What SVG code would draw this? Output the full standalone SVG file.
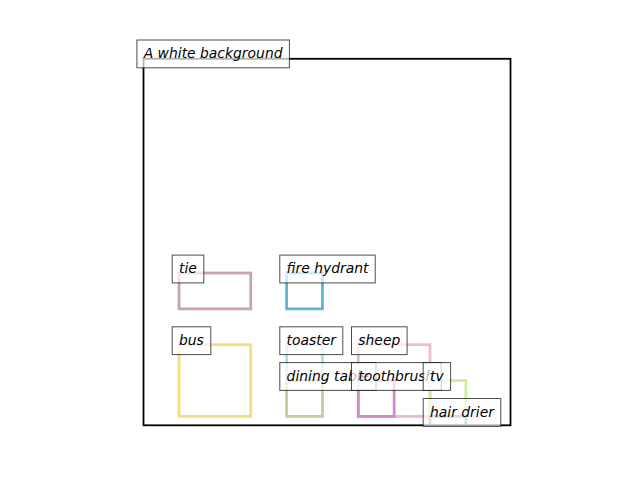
<svg xmlns="http://www.w3.org/2000/svg" width="640" height="480" viewBox="0 0 640 480">
<style>
.box{fill:none;stroke-width:2.8;stroke-linejoin:miter}
.lb{fill:#ffffff;fill-opacity:0.7;stroke:#000000;stroke-opacity:0.7;stroke-width:1}
.lt{font-family:"DejaVu Sans",sans-serif;font-style:italic;font-size:13.9px;fill:#000000}
</style>
<defs>
<clipPath id="ax"><rect x="143.5" y="58.8" width="367" height="366.5"/></clipPath>
</defs>
<rect x="0" y="0" width="640" height="480" fill="#ffffff"/>
<g id="boxes" clip-path="url(#ax)">
<rect id="r-tie" class="box" x="179.05" y="273" width="71.7" height="35.85" stroke="#c9a2b4"/>
<rect id="r-fire" class="box" x="286.6" y="273" width="35.85" height="35.85" stroke="#5bb8d2"/>
<rect id="r-bus" class="box" x="179.05" y="344.7" width="71.7" height="71.7" stroke="#f5dc80"/>
<rect id="r-toaster" class="box" x="286.6" y="344.7" width="35.85" height="35.85" stroke="#b0dce8"/>
<rect id="r-dining" class="box" x="286.6" y="380.55" width="35.85" height="35.85" stroke="#c8cc98"/>
<rect id="r-sheep" class="box" x="358.3" y="344.7" width="71.7" height="71.7" stroke="#e8bcd6"/>
<rect id="r-toothbrush" class="box" x="358.3" y="380.55" width="35.85" height="35.85" stroke="#c98fc4"/>
<rect id="r-tv" class="box" x="430" y="380.55" width="35.85" height="35.85" stroke="#d0ee9e"/>
<rect id="r-hair" class="box" x="430" y="416.4" width="35.85" height="35.85" stroke="#8a9494"/>
</g>
<rect id="axes" x="143.5" y="58.8" width="367" height="366.5" fill="none" stroke="#000000" stroke-width="1.8"/>
<g id="labels">
<g id="l-bg"><rect class="lb" x="136.9" y="40" width="152.5" height="27.8"/><text class="lt" x="143.7" y="58.3">A white background</text></g>
<g id="l-tie"><rect class="lb" x="172.2" y="255.1" width="31.6" height="27.8"/><text class="lt" x="179" y="273.4">tie</text></g>
<g id="l-fire"><rect class="lb" x="279.8" y="255.1" width="95.4" height="27.8"/><text class="lt" x="286.6" y="273.4">fire hydrant</text></g>
<g id="l-bus"><rect class="lb" x="172.2" y="326.8" width="38.6" height="27.8"/><text class="lt" x="179" y="345.1">bus</text></g>
<g id="l-toaster"><rect class="lb" x="279.8" y="326.8" width="63" height="27.8"/><text class="lt" x="286.6" y="345.1">toaster</text></g>
<g id="l-sheep"><rect class="lb" x="351.5" y="326.8" width="55.6" height="27.8"/><text class="lt" x="358.3" y="345.1">sheep</text></g>
<g id="l-dining"><rect class="lb" x="279.8" y="362.6" width="96.2" height="27.8"/><text class="lt" x="286.6" y="380.9">dining table</text></g>
<g id="l-toothbrush"><rect class="lb" x="351.5" y="362.6" width="89.7" height="27.8"/><text class="lt" x="358.3" y="380.9">toothbrush</text></g>
<g id="l-tv"><rect class="lb" x="423.2" y="362.6" width="27.4" height="27.8"/><text class="lt" x="430" y="380.9">tv</text></g>
<g id="l-hair"><rect class="lb" x="423.2" y="398.5" width="77.6" height="27.8"/><text class="lt" x="430" y="416.8">hair drier</text></g>
</g>
</svg>
